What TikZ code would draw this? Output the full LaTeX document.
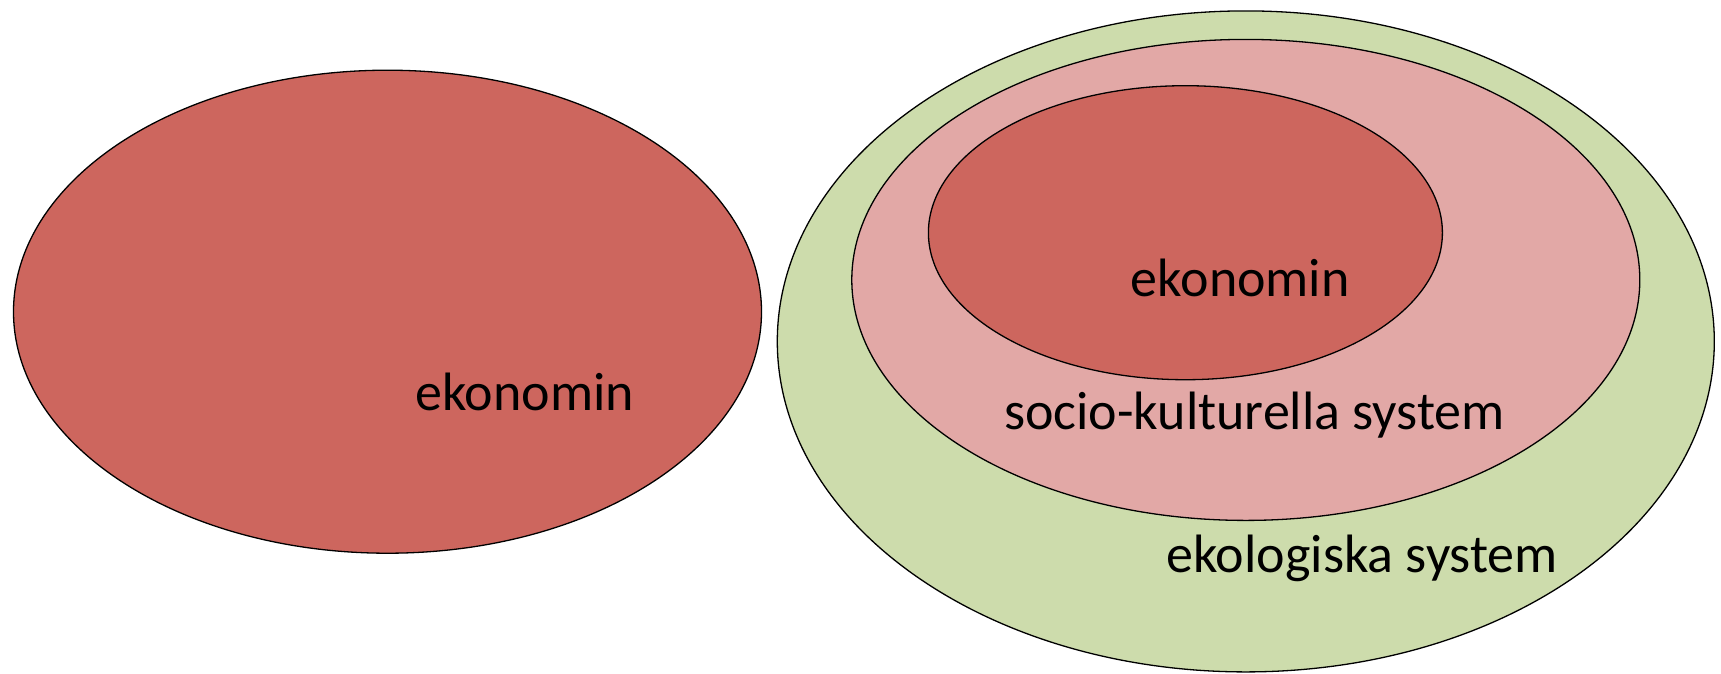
\documentclass[tikz,border=0pt]{standalone}
\usepackage{fontspec}
\setmainfont{Carlito}
\usetikzlibrary{shapes}
\definecolor{ekored}{RGB}{205,102,94}
\definecolor{socpink}{RGB}{226,168,166}
\definecolor{ekogreen}{RGB}{205,220,172}

\begin{document}
\begin{tikzpicture}[x=1pt,y=-1pt]

  \useasboundingbox (0,0) rectangle (1721,673);

  \node[draw,ellipse,line width=1.3pt,inner sep=0pt,fill=ekored,minimum width=748pt,minimum height=483pt] at (387.5,311.7) (eko-l) {};

  \node[draw,ellipse,line width=1.3pt,inner sep=0pt,fill=ekogreen,minimum width=937pt,minimum height=661pt] at (1245.8,341.4) (ekol) {};
  \node[draw,ellipse,line width=1.3pt,inner sep=0pt,fill=socpink,minimum width=788pt,minimum height=481pt] at (1245.8,279.9) (soc) {};
  \node[draw,ellipse,line width=1.3pt,inner sep=0pt,fill=ekored,minimum width=514pt,minimum height=294pt] at (1185.4,232.7) (eko-r) {};

  \node[font=\fontsize{54}{60}\selectfont] at (524.6,391.8) (t-eko-l) {ekonomin};
  \node[font=\fontsize{54}{60}\selectfont] at (1240.3,277.7) (t-eko-r) {ekonomin};
  \node[font=\fontsize{54}{60}\selectfont] at (1254.5,414.9) (t-soc) {socio-kulturella system};
  \node[font=\fontsize{54}{60}\selectfont] at (1362.1,558.7) (t-ekol) {ekologiska system};

\end{tikzpicture}
\end{document}
